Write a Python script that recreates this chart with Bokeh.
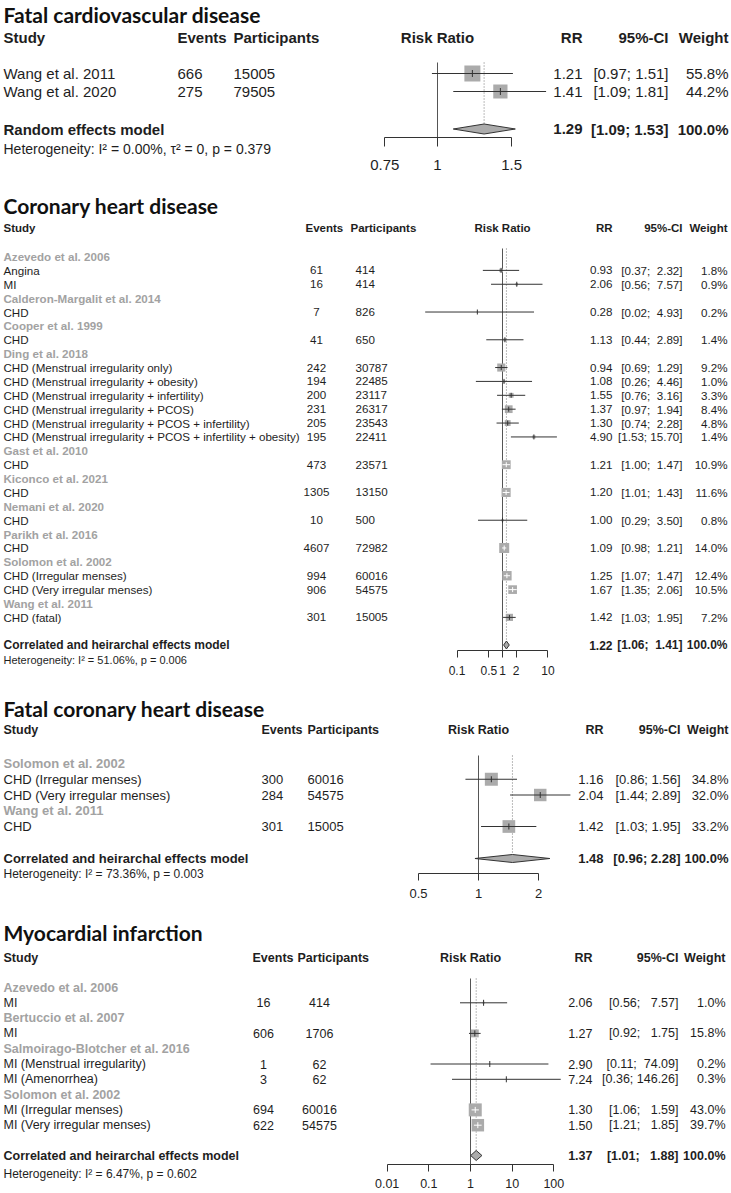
import math
from bokeh.plotting import figure
from bokeh.models import Range1d, LogScale, LogAxis, FixedTicker
from bokeh.layouts import column
from bokeh.core.properties import value
from bokeh.embed import file_html
from bokeh.resources import INLINE

# ------------------------------------------------------------------ data
# Panel 1: Fatal cardiovascular disease
fcvd_title = "Fatal cardiovascular disease"
fcvd_group = [None, None]
fcvd_label = ["Wang et al. 2011", "Wang et al. 2020"]
fcvd_events = [666, 275]
fcvd_participants = [15005, 79505]
fcvd_rr = [1.21, 1.41]
fcvd_lo = [0.97, 1.09]
fcvd_hi = [1.51, 1.81]
fcvd_weight = [55.8, 44.2]
fcvd_model = "Random effects model"
fcvd_pooled = [1.29, 1.09, 1.53]
fcvd_het = "Heterogeneity: I² = 0.00%, τ² = 0, p = 0.379"
fcvd_ticks = [0.75, 1, 1.5]
fcvd_tick_labels = ["0.75", "1", "1.5"]

# Panel 2: Coronary heart disease
chd_title = "Coronary heart disease"
chd_group = ["Azevedo et al. 2006", "Azevedo et al. 2006",
             "Calderon-Margalit et al. 2014", "Cooper et al. 1999",
             "Ding et al. 2018", "Ding et al. 2018", "Ding et al. 2018",
             "Ding et al. 2018", "Ding et al. 2018", "Ding et al. 2018",
             "Gast et al. 2010", "Kiconco et al. 2021", "Nemani et al. 2020",
             "Parikh et al. 2016", "Solomon et al. 2002", "Solomon et al. 2002",
             "Wang et al. 2011"]
chd_label = ["Angina", "MI", "CHD", "CHD",
             "CHD (Menstrual irregularity only)",
             "CHD (Menstrual irregularity + obesity)",
             "CHD (Menstrual irregularity + infertility)",
             "CHD (Menstrual irregularity + PCOS)",
             "CHD (Menstrual irregularity + PCOS + infertility)",
             "CHD (Menstrual irregularity + PCOS + infertility + obesity)",
             "CHD", "CHD", "CHD", "CHD",
             "CHD (Irregular menses)", "CHD (Very irregular menses)",
             "CHD (fatal)"]
chd_events = [61, 16, 7, 41, 242, 194, 200, 231, 205, 195, 473, 1305, 10, 4607, 994, 906, 301]
chd_participants = [414, 414, 826, 650, 30787, 22485, 23117, 26317, 23543, 22411,
                    23571, 13150, 500, 72982, 60016, 54575, 15005]
chd_rr = [0.93, 2.06, 0.28, 1.13, 0.94, 1.08, 1.55, 1.37, 1.30, 4.90,
          1.21, 1.20, 1.00, 1.09, 1.25, 1.67, 1.42]
chd_lo = [0.37, 0.56, 0.02, 0.44, 0.69, 0.26, 0.76, 0.97, 0.74, 1.53,
          1.00, 1.01, 0.29, 0.98, 1.07, 1.35, 1.03]
chd_hi = [2.32, 7.57, 4.93, 2.89, 1.29, 4.46, 3.16, 1.94, 2.28, 15.70,
          1.47, 1.43, 3.50, 1.21, 1.47, 2.06, 1.95]
chd_weight = [1.8, 0.9, 0.2, 1.4, 9.2, 1.0, 3.3, 8.4, 4.8, 1.4,
              10.9, 11.6, 0.8, 14.0, 12.4, 10.5, 7.2]
chd_model = "Correlated and heirarchal effects model"
chd_pooled = [1.22, 1.06, 1.41]
chd_het = "Heterogeneity: I² = 51.06%, p = 0.006"
chd_ticks = [0.1, 0.5, 1, 2, 10]
chd_tick_labels = ["0.1", "0.5", "1", "2", "10"]

# Panel 3: Fatal coronary heart disease
fchd_title = "Fatal coronary heart disease"
fchd_group = ["Solomon et al. 2002", "Solomon et al. 2002", "Wang et al. 2011"]
fchd_label = ["CHD (Irregular menses)", "CHD (Very irregular menses)", "CHD"]
fchd_events = [300, 284, 301]
fchd_participants = [60016, 54575, 15005]
fchd_rr = [1.16, 2.04, 1.42]
fchd_lo = [0.86, 1.44, 1.03]
fchd_hi = [1.56, 2.89, 1.95]
fchd_weight = [34.8, 32.0, 33.2]
fchd_model = "Correlated and heirarchal effects model"
fchd_pooled = [1.48, 0.96, 2.28]
fchd_het = "Heterogeneity: I² = 73.36%, p = 0.003"
fchd_ticks = [0.5, 1, 2]
fchd_tick_labels = ["0.5", "1", "2"]

# Panel 4: Myocardial infarction
mi_title = "Myocardial infarction"
mi_group = ["Azevedo et al. 2006", "Bertuccio et al. 2007",
            "Salmoirago-Blotcher et  al. 2016", "Salmoirago-Blotcher et  al. 2016",
            "Solomon et al. 2002", "Solomon et al. 2002"]
mi_label = ["MI", "MI", "MI (Menstrual irregularity)", "MI (Amenorrhea)",
            "MI (Irregular menses)", "MI (Very irregular menses)"]
mi_events = [16, 606, 1, 3, 694, 622]
mi_participants = [414, 1706, 62, 62, 60016, 54575]
mi_rr = [2.06, 1.27, 2.90, 7.24, 1.30, 1.50]
mi_lo = [0.56, 0.92, 0.11, 0.36, 1.06, 1.21]
mi_hi = [7.57, 1.75, 74.09, 146.26, 1.59, 1.85]
mi_weight = [1.0, 15.8, 0.2, 0.3, 43.0, 39.7]
mi_model = "Correlated and heirarchal effects model"
mi_pooled = [1.37, 1.01, 1.88]
mi_het = "Heterogeneity: I² = 6.47%, p = 0.602"
mi_ticks = [0.01, 0.1, 1, 10, 100]
mi_tick_labels = ["0.01", "0.1", "1", "10", "100"]

# ------------------------------------------------------------------ style / layout
XL = 0          # page x of the left edge of the layout
XR = 731        # page x of the right edge
TX = 3          # page x of the left text column
BODY = "Liberation Sans"
TITLE_FONT = "Lato"
DARK = "#1e1e1e"
GREY_TXT = "#a2a2a2"
LINE = "#333333"
BOX = "#ababab"
NB = "\u00a0"

L1 = dict(top=0, axis=137, bottom=187, title_y=14, title_size="21px",
          header_y=37, row0=73, pitch=18, model_y=128.5, het_y=148,
          font="15px", mfont="15px", hfont="15px", het_font="14px",
          ev_x=177, ev_align="left", ev_hx=177, pa_x=233, pa_align="left", pa_hx=233,
          rrh_x=437, rr_x=582, ci_x=668, w_x=728,
          c=437, k=183, ref_top=62, sq_max=16, dh=5, est=7,
          tick_out=9, standoff=13, tick_font="15px")
L2 = dict(top=187, axis=650, bottom=690, title_y=205, title_size="21px",
          header_y=227, row0=256, pitch=13.88, model_y=644.5, het_y=659,
          font="11.6px", mfont="12px", hfont="11.5px", het_font="11px",
          ev_x=316, ev_align="center", ev_hx=305, pa_x=355, pa_align="left", pa_hx=350,
          rrh_x=502, rr_x=612, ci_x=682, w_x=727,
          c=502, k=19.76, ref_top=248, sq_max=10, dh=4, est=5,
          tick_out=7, standoff=8, tick_font="12px")
L3 = dict(top=690, axis=873, bottom=912, title_y=708, title_size="21px",
          header_y=729, row0=763, pitch=15.75, model_y=858, het_y=873,
          font="13px", mfont="13px", hfont="12.5px", het_font="12px",
          ev_x=261, ev_align="left", ev_hx=261, pa_x=307, pa_align="left", pa_hx=307,
          rrh_x=478, rr_x=603, ci_x=680, w_x=728,
          c=478, k=86.6, ref_top=755, sq_max=13, dh=4, est=6,
          tick_out=7, standoff=8, tick_font="13px")
L4 = dict(top=912, axis=1164, bottom=1193, title_y=932, title_size="21px",
          header_y=957, row0=987, pitch=15.3, model_y=1155, het_y=1173,
          font="12.5px", mfont="12.5px", hfont="12.5px", het_font="12px",
          ev_x=263, ev_align="center", ev_hx=252, pa_x=319, pa_align="center", pa_hx=297,
          rrh_x=470, rr_x=592, ci_x=678, w_x=725,
          c=470, k=18.1, ref_top=978, sq_max=13, dh=5, est=6,
          tick_out=7, standoff=7, tick_font="12.5px")


def txt(p, xs, ys, texts, size, align="left", bold=False, color=DARK, font=BODY):
    p.text(x=xs, y=ys, text=texts, text_font=value(font), text_font_size=value(size),
           text_font_style="bold" if bold else "normal", text_align=align,
           text_baseline="middle", text_color=color)


def fmt_ci(lo, hi):
    los = [f"{v:.2f}" for v in lo]
    his = [f"{v:.2f}" for v in hi]
    wl = max(len(s) for s in los)
    wh = max(len(s) for s in his)
    return [f"[{NB * (wl - len(a))}{a};{NB * (wh - len(b) + 1)}{b}]" for a, b in zip(los, his)]


def build_panel(L, title, group, label, events, parts, rr, lo, hi, weight,
                model_name, pooled, het, ticks, tick_labels):
    # row positions (study-group heading rows inserted where the study changes)
    ys, head_y, head_txt = [], [], []
    idx, prev = 0, object()
    for g in group:
        if g is not None and g != prev:
            head_y.append(L["row0"] + idx * L["pitch"])
            head_txt.append(g)
            idx += 1
        prev = g
        ys.append(L["row0"] + idx * L["pitch"])
        idx += 1

    H = L["bottom"] - L["top"]
    f = figure(width=XR - XL, height=H, x_range=Range1d(XL, XR),
               y_range=Range1d(L["bottom"], L["top"]), x_axis_type=None, y_axis_type=None,
               toolbar_location=None, output_backend="svg", min_border=0)
    f.outline_line_color = None

    # log scale for the risk-ratio forest
    c, k = L["c"], L["k"]
    f.extra_x_ranges = {"rr": Range1d(math.exp((XL - c) / k), math.exp((XR - c) / k))}
    f.extra_x_scales = {"rr": LogScale()}
    ax = LogAxis(x_range_name="rr", ticker=FixedTicker(ticks=ticks),
                 bounds=(min(ticks), max(ticks)), fixed_location=L["axis"],
                 major_label_overrides={t: s for t, s in zip(ticks, tick_labels)})
    ax.minor_tick_line_color = None
    ax.major_tick_in = 0
    ax.major_tick_out = L["tick_out"]
    ax.major_label_standoff = L["standoff"]
    ax.axis_line_color = LINE
    ax.major_tick_line_color = LINE
    ax.major_label_text_font = BODY
    ax.major_label_text_font_size = L["tick_font"]
    ax.major_label_text_color = DARK
    f.add_layout(ax, "below")

    # ---------------- left table
    txt(f, [TX], [L["title_y"]], [title], L["title_size"], bold=True, font=TITLE_FONT,
        color="#111111")
    txt(f, [TX], [L["header_y"]], ["Study"], L["hfont"], bold=True)
    txt(f, [L["ev_hx"]], [L["header_y"]], ["Events"], L["hfont"], bold=True)
    txt(f, [L["pa_hx"]], [L["header_y"]], ["Participants"], L["hfont"], bold=True)
    if head_txt:
        txt(f, [TX] * len(head_y), head_y, head_txt, L["font"], bold=True, color=GREY_TXT)
    txt(f, [TX] * len(ys), ys, label, L["font"])
    txt(f, [L["ev_x"]] * len(ys), ys, [str(v) for v in events], L["font"], align=L["ev_align"])
    txt(f, [L["pa_x"]] * len(ys), ys, [str(v) for v in parts], L["font"], align=L["pa_align"])
    txt(f, [TX], [L["model_y"]], [model_name], L["mfont"], bold=True)
    txt(f, [TX], [L["het_y"]], [het], L["het_font"])

    # ---------------- forest
    pe, pl, ph = pooled
    my, dh = L["model_y"], L["dh"]
    f.segment(x0=[1], y0=[L["ref_top"]], x1=[1], y1=[L["axis"]], x_range_name="rr",
              line_color="#555555", line_width=1)
    f.segment(x0=[pe], y0=[L["ref_top"]], x1=[pe], y1=[my - dh], x_range_name="rr",
              line_color="#777777", line_width=1, line_dash="1 2")
    wmax = max(weight)
    sizes = [L["sq_max"] * math.sqrt(w / wmax) for w in weight]
    cols = []
    for r, a, b, s in zip(rr, lo, hi, sizes):
        inside = k * (math.log(r) - math.log(a)) <= s / 2 and k * (math.log(b) - math.log(r)) <= s / 2
        cols.append("#ffffff" if inside else LINE)
    f.scatter(x=rr, y=ys, size=sizes, marker="square", fill_color=BOX, line_color=None,
              x_range_name="rr")
    f.segment(x0=lo, y0=ys, x1=hi, y1=ys, line_color=cols, line_width=1, x_range_name="rr")
    f.scatter(x=rr, y=ys, size=L["est"], marker="dash", angle=math.pi / 2, line_color=cols,
              line_width=1, x_range_name="rr")
    f.patch(x=[pl, pe, ph, pe], y=[my, my - dh, my, my + dh], x_range_name="rr",
            fill_color=BOX, line_color=LINE, line_width=1)

    # ---------------- right-hand columns
    txt(f, [L["rrh_x"]], [L["header_y"]], ["Risk Ratio"], L["hfont"], align="center", bold=True)
    txt(f, [L["rr_x"]], [L["header_y"]], ["RR"], L["hfont"], align="right", bold=True)
    txt(f, [L["ci_x"]], [L["header_y"]], ["95%-CI"], L["hfont"], align="right", bold=True)
    txt(f, [L["w_x"]], [L["header_y"]], ["Weight"], L["hfont"], align="right", bold=True)
    cis = fmt_ci(lo + [pl], hi + [ph])
    txt(f, [L["rr_x"]] * len(ys), ys, [f"{v:.2f}" for v in rr], L["font"], align="right")
    txt(f, [L["ci_x"]] * len(ys), ys, cis[:-1], L["font"], align="right")
    txt(f, [L["w_x"]] * len(ys), ys, [f"{v:.1f}%" for v in weight], L["font"], align="right")
    txt(f, [L["rr_x"]], [my], [f"{pe:.2f}"], L["mfont"], align="right", bold=True)
    txt(f, [L["ci_x"]], [my], [cis[-1]], L["mfont"], align="right", bold=True)
    txt(f, [L["w_x"]], [my], ["100.0%"], L["mfont"], align="right", bold=True)
    return f


p1 = build_panel(L1, fcvd_title, fcvd_group, fcvd_label, fcvd_events, fcvd_participants,
                 fcvd_rr, fcvd_lo, fcvd_hi, fcvd_weight, fcvd_model, fcvd_pooled, fcvd_het,
                 fcvd_ticks, fcvd_tick_labels)
p2 = build_panel(L2, chd_title, chd_group, chd_label, chd_events, chd_participants,
                 chd_rr, chd_lo, chd_hi, chd_weight, chd_model, chd_pooled, chd_het,
                 chd_ticks, chd_tick_labels)
p3 = build_panel(L3, fchd_title, fchd_group, fchd_label, fchd_events, fchd_participants,
                 fchd_rr, fchd_lo, fchd_hi, fchd_weight, fchd_model, fchd_pooled, fchd_het,
                 fchd_ticks, fchd_tick_labels)
p4 = build_panel(L4, mi_title, mi_group, mi_label, mi_events, mi_participants,
                 mi_rr, mi_lo, mi_hi, mi_weight, mi_model, mi_pooled, mi_het,
                 mi_ticks, mi_tick_labels)

p = column(p1, p2, p3, p4, spacing=0)

open("out.html", "w").write(file_html(p, INLINE))
